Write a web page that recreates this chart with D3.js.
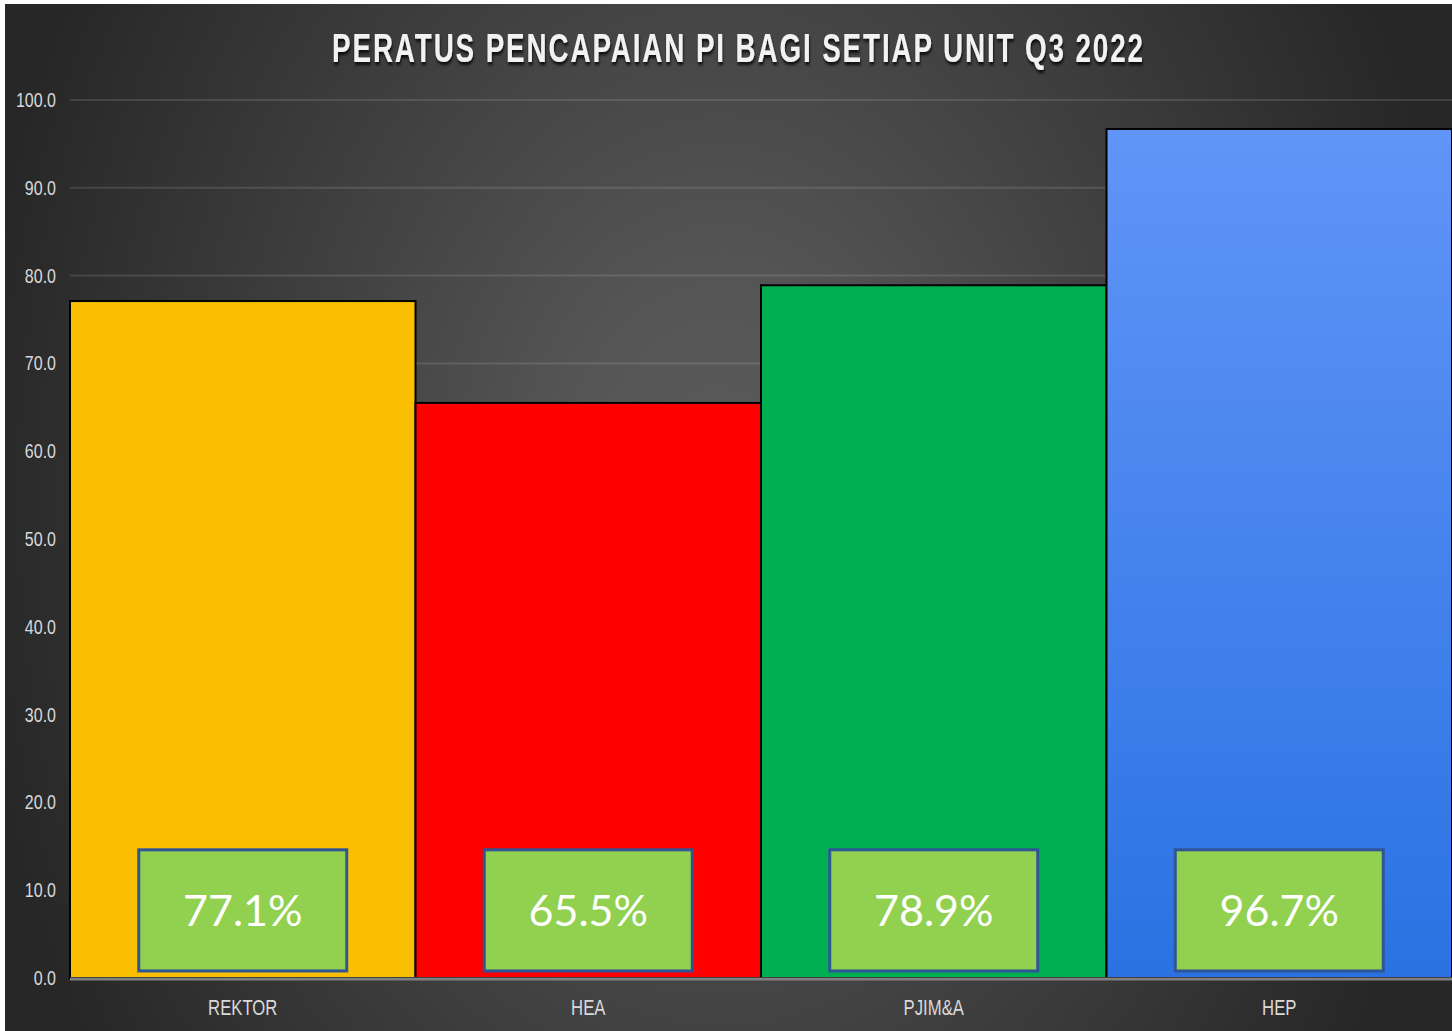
<!DOCTYPE html>
<html>
<head>
<meta charset="utf-8">
<script src="https://cdn.jsdelivr.net/npm/d3@7"></script>
<style>
  body { margin: 0; background: #ffffff; }
  svg { display: block; }
  .narrow { font-family: "Liberation Sans", Arial, sans-serif; }
</style>
</head>
<body>
<svg id="chart"></svg>
<script>
const TITLE = "PERATUS PENCAPAIAN PI BAGI SETIAP UNIT Q3 2022";
const units = ["REKTOR", "HEA", "PJIM&A", "HEP"];
const scores = [77.1, 65.5, 78.9, 96.7];
const barColors = ["#FABF00", "#FF0000", "#00B050", "url(#blueFill)"];
const yTicks = [0, 10, 20, 30, 40, 50, 60, 70, 80, 90, 100];

const width = 1452;
const height = 1031;
const margin = { top: 100, right: 0, bottom: 53, left: 70 };
const squeeze = 0.8; // Liberation Sans squeezed to look like Arial Narrow
const titleSqueeze = 0.68;

const svg = d3.select("#chart").attr("width", width).attr("height", height);
const defs = svg.append("defs");

// background: soft radial glow, darker at the edges
const bg = defs
  .append("radialGradient")
  .attr("id", "bgGlow")
  .attr("gradientUnits", "userSpaceOnUse")
  .attr("cx", 720)
  .attr("cy", 500)
  .attr("r", 750)
  .attr("gradientTransform", "translate(720,500) scale(1,1.35) translate(-720,-500)");
bg.append("stop").attr("offset", "0").attr("stop-color", "#5b5b5b");
bg.append("stop").attr("offset", "0.2").attr("stop-color", "#565656");
bg.append("stop").attr("offset", "0.45").attr("stop-color", "#474747");
bg.append("stop").attr("offset", "1").attr("stop-color", "#272727");

const blue = defs
  .append("linearGradient")
  .attr("id", "blueFill")
  .attr("x1", 0).attr("y1", 0).attr("x2", 0).attr("y2", 1);
blue.append("stop").attr("offset", "0").attr("stop-color", "#6195F8");
blue.append("stop").attr("offset", "1").attr("stop-color", "#2A72E2");

const shadow = defs.append("filter").attr("id", "titleShadow")
  .attr("x", "-5%").attr("y", "-30%").attr("width", "110%").attr("height", "170%");
shadow.append("feDropShadow")
  .attr("dx", 1).attr("dy", 3).attr("stdDeviation", 1.5)
  .attr("flood-color", "#000").attr("flood-opacity", 0.8);

svg.append("rect")
  .attr("x", 5).attr("y", 4)
  .attr("width", width - 5).attr("height", height - 4)
  .attr("fill", "url(#bgGlow)");

const x = d3.scaleBand()
  .domain(units)
  .range([margin.left, width - margin.right])
  .padding(0);

const y = d3.scaleLinear()
  .domain([0, 100])
  .range([height - margin.bottom, margin.top]);

// gridlines
svg.append("g")
  .selectAll("line")
  .data(yTicks.slice(1))
  .join("line")
  .attr("x1", margin.left)
  .attr("x2", width - margin.right)
  .attr("y1", (d) => y(d))
  .attr("y2", (d) => y(d))
  .attr("stroke", "rgba(255,255,255,0.12)")
  .attr("stroke-width", 2);

// y axis labels
const yAxis = svg.append("g")
  .attr("class", "narrow")
  .attr("transform", `translate(${margin.left},0)`)
  .call(d3.axisLeft(y).tickValues(yTicks).tickFormat(d3.format(".1f")).tickSize(0));
yAxis.select(".domain").remove();
yAxis.selectAll("text")
  .attr("x", -14 / squeeze)
  .attr("transform", `scale(${squeeze},1)`)
  .attr("fill", "#d9d9d9")
  .style("font-size", "20px")
  .attr("font-family", null);

// bars
svg.append("g")
  .selectAll("rect")
  .data(units)
  .join("rect")
  .attr("x", (d) => x(d))
  .attr("y", (d, i) => y(scores[i]))
  .attr("width", x.bandwidth())
  .attr("height", (d, i) => y(0) - y(scores[i]))
  .attr("fill", (d, i) => barColors[i])
  .attr("stroke", "#000")
  .attr("stroke-width", 2);

// x axis line
svg.append("line")
  .attr("x1", margin.left)
  .attr("x2", width - margin.right)
  .attr("y1", y(0) + 1)
  .attr("y2", y(0) + 1)
  .attr("stroke", "#808080")
  .attr("stroke-width", 3);

// category labels
const xAxis = svg.append("g")
  .attr("class", "narrow")
  .attr("transform", `translate(0,${y(0)})`)
  .call(d3.axisBottom(x).tickSize(0).tickPadding(21));
xAxis.select(".domain").remove();
xAxis.selectAll("text")
  .attr("transform", `scale(0.76,1)`)
  .attr("fill", "#d9d9d9")
  .style("font-size", "22px")
  .attr("font-family", null);

// value boxes
const boxW = 208;
const boxTop = y(14.6);
const boxBottom = y(0.8);
const boxes = svg.append("g")
  .selectAll("g")
  .data(units)
  .join("g")
  .attr("transform", (d) => `translate(${x(d) + x.bandwidth() / 2 - boxW / 2},${boxTop})`);

boxes.append("rect")
  .attr("width", boxW)
  .attr("height", boxBottom - boxTop)
  .attr("fill", "#92D050")
  .attr("stroke", "#2F5597")
  .attr("stroke-width", 3);

boxes.append("text")
  .attr("x", boxW / 2)
  .attr("y", (boxBottom - boxTop) / 2)
  .attr("dy", "0.36em")
  .attr("text-anchor", "middle")
  .attr("fill", "#ffffff")
  .style("font-family", "Lato, 'Open Sans', sans-serif")
  .style("font-size", "43px")
  .text((d, i) => d3.format(".1f")(scores[i]) + "%");

// title: narrow bold caps, spread out across its width
svg.append("text")
  .attr("class", "narrow")
  .attr("transform", `translate(332,62) scale(${titleSqueeze},1)`)
  .attr("textLength", 811 / titleSqueeze)
  .attr("lengthAdjust", "spacing")
  .attr("fill", "#f2f2f2")
  .attr("filter", "url(#titleShadow)")
  .style("font-size", "41px")
  .style("font-weight", "bold")
  .text(TITLE);
</script>
</body>
</html>
